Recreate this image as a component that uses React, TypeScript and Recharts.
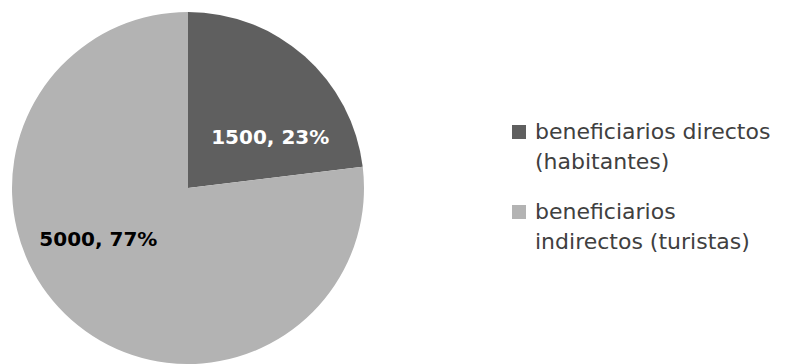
import React from "react";
import { PieChart, Pie, Cell, Legend } from "recharts";

const categories = ["beneficiarios directos (habitantes)", "beneficiarios indirectos (turistas)"];
const values = [1500, 5000];
const colors = ["#5f5f5f", "#b3b3b3"];
const labelColors = ["#ffffff", "#000000"];
const legendLines = [
  ["beneficiarios directos", "(habitantes)"],
  ["beneficiarios", "indirectos (turistas)"],
];

const data = categories.map((name, i) => ({ name, value: values[i] }));

const FONT = "'DejaVu Sans', sans-serif";
const RAD = Math.PI / 180;
// label placement (angle in degrees, radius in px) relative to pie center
const labelPlacement = [
  { angle: 32, r: 97 },
  { angle: 209.5, r: 103 },
];

const renderLabel = (props: any) => {
  const { cx, cy, index, value, percent } = props;
  const p = labelPlacement[index];
  const x = cx + p.r * Math.cos(p.angle * RAD);
  const y = cy - p.r * Math.sin(p.angle * RAD);
  return (
    <text
      x={x}
      y={y}
      textAnchor="middle"
      dominantBaseline="central"
      fill={labelColors[index]}
      fontFamily={FONT}
      fontWeight="bold"
      fontSize={20}
    >
      {`${value}, ${Math.round(percent * 100)}%`}
    </text>
  );
};

const renderLegend = () => (
  <div style={{ fontFamily: FONT, fontSize: 22, color: "#404040" }}>
    {legendLines.map((lines, i) => (
      <div key={i} style={{ display: "flex", alignItems: "flex-start", marginBottom: 20 }}>
        <div
          style={{
            width: 14,
            height: 14,
            background: colors[i],
            marginTop: 8,
            marginRight: 9,
            flex: "none",
          }}
        />
        <div style={{ lineHeight: "30px", whiteSpace: "nowrap" }}>
          {lines.map((l, j) => (
            <div key={j}>{l}</div>
          ))}
        </div>
      </div>
    ))}
  </div>
);

export default function App() {
  return (
    <div style={{ position: "absolute", left: 0, top: 0, width: 810, height: 364, background: "#fff" }}>
      <PieChart width={810} height={364} margin={{ top: 0, right: 0, bottom: 0, left: 0 }}>
        <Pie
          data={data}
          dataKey="value"
          nameKey="name"
          cx={188}
          cy={188}
          outerRadius={176}
          startAngle={90}
          endAngle={-270}
          stroke="none"
          label={renderLabel}
          labelLine={false}
          isAnimationActive={false}
        >
          {data.map((d, i) => (
            <Cell key={d.name} fill={colors[i]} />
          ))}
        </Pie>
        <Legend
          content={renderLegend}
          wrapperStyle={{ position: "absolute", left: 512, top: 117, width: 298 }}
        />
      </PieChart>
    </div>
  );
}
